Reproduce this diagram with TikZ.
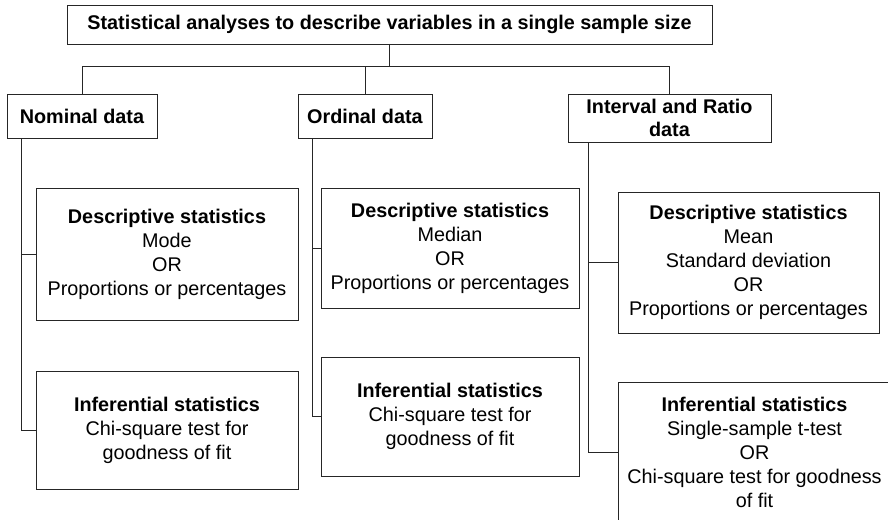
\documentclass[tikz,border=0pt]{standalone}
\usepackage{fontspec}
\setmainfont{Liberation Sans}
\begin{document}
\begin{tikzpicture}[x=1pt,y=-1pt,
  box/.style={draw=black!85, line width=0.8pt, fill=white, align=center, inner sep=2pt, outer sep=0pt,
    font=\fontsize{19.8}{24}\selectfont},
  link/.style={draw=black!85, line width=0.8pt}]
\useasboundingbox (0,0) rectangle (888,519);
\clip (0,0) rectangle (888,519);

% top-level heading
\node[box, minimum width=645pt, minimum height=39pt] (title) at (389.5,24.5)
  {\textbf{Statistical analyses to describe variables in a single sample size}};

% the three kinds of data
\node[box, minimum width=150pt, minimum height=44pt] (nom) at (82,116) {\textbf{Nominal data}};
\node[box, minimum width=134pt, minimum height=44pt] (ord) at (365,116) {\textbf{Ordinal data}};
\node[box, minimum width=203pt, minimum height=48pt, font=\fontsize{19.8}{22.5}\selectfont] (int) at (669.5,118)
  {\textbf{Interval and Ratio}\\\textbf{data}};

% nominal branch
\node[box, minimum width=262pt, minimum height=132pt] (nd) at (167,254)
  {\textbf{Descriptive statistics}\\Mode\\OR\\Proportions or percentages};
\node[box, minimum width=262pt, minimum height=118pt] (ni) at (167,430)
  {\textbf{Inferential statistics}\\Chi-square test for\\goodness of fit};

% ordinal branch
\node[box, minimum width=258pt, minimum height=120pt] (od) at (450,248)
  {\textbf{Descriptive statistics}\\Median\\OR\\Proportions or percentages};
\node[box, minimum width=258pt, minimum height=119pt] (oi) at (450,416.5)
  {\textbf{Inferential statistics}\\Chi-square test for\\goodness of fit};

% interval and ratio branch
\node[box, minimum width=261pt, minimum height=141pt] (id) at (748.5,262.5)
  {\textbf{Descriptive statistics}\\Mean\\Standard deviation\\OR\\Proportions or percentages};
\node[box, minimum width=273pt, minimum height=140pt] (ii) at (754.5,452)
  {\textbf{Inferential statistics}\\Single-sample t-test\\OR\\Chi-square test for goodness\\of fit};

% bus joining the heading to the three kinds of data
\coordinate (bus) at (0,66);
\draw[link] (title.south) -- (title.south |- bus);
\draw[link] (nom.north) -- (nom.north |- bus) -- (int.north |- bus) -- (int.north);
\draw[link] (ord.north) -- (ord.north |- bus);

% trunks down each branch
\coordinate (t1) at ([xshift=14pt]nom.south west);
\coordinate (t2) at ([xshift=14pt]ord.south west);
\coordinate (t3) at ([xshift=20pt]int.south west);
\draw[link] (t1) |- (ni.west);
\draw[link] (nd.west) -- (nd.west -| t1);
\draw[link] (t2) |- (oi.west);
\draw[link] (od.west) -- (od.west -| t2);
\draw[link] (t3) |- (ii.west);
\draw[link] (id.west) -- (id.west -| t3);
\end{tikzpicture}
\end{document}
